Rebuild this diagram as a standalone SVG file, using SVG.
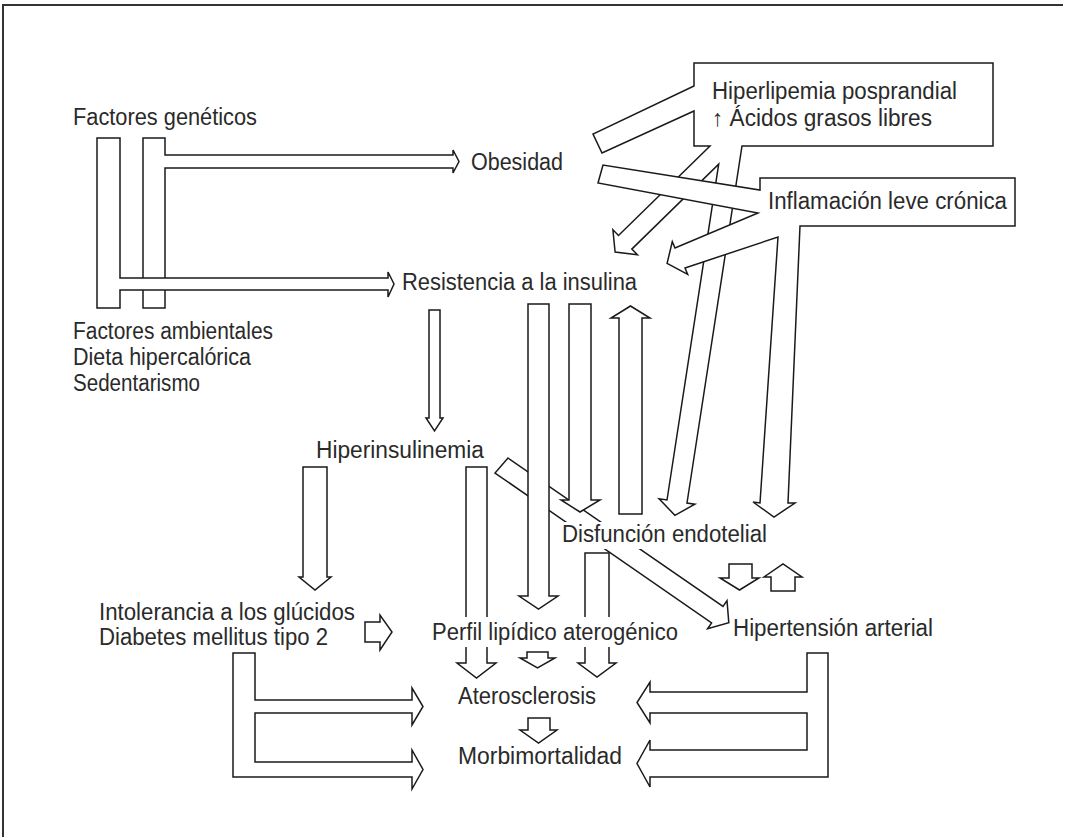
<svg xmlns="http://www.w3.org/2000/svg" width="1065" height="837" viewBox="0 0 1065 837">
<style>
.c{fill:#fff;stroke:#1a1a1a;stroke-width:1.5;stroke-linejoin:miter}
.t{font-family:"Liberation Sans",Arial,sans-serif;font-size:23px;fill:#2a2a2a}
.bg{fill:#fff}
.frame{fill:none;stroke:#333;stroke-width:2}
</style>
<rect width="1065" height="837" fill="#fff"/>
<path class="frame" d="M3,837 L3,5 L1063,5"/>
<g id="connectors">
  <path class="c" d="M508,458 L723,606.4 L727,600.6 L728.8,622.6 L707.6,628.7 L711.6,622.9 L495,473 Z"/>
  <path class="c" d="M429,310 L440,310 L440,418 L443,418 L434.5,431 L426,418 L429,418 Z"/>
  <path class="c" d="M528,304 L549,304 L549,596 L558,596 L538.5,609 L519,596 L528,596 Z"/>
  <path class="c" d="M569,304 L591,304 L591,500 L600,500 L580,512 L561,500 L569,500 Z"/>
  <path class="c" d="M619,514 L642,514 L642,318 L650,318 L630.5,306 L611,318 L619,318 Z"/>
  <path class="c" d="M303,467 L327,467 L327,577 L331,577 L315,590 L299,577 L303,577 Z"/>
  <path class="c" d="M466,467 L487,467 L487,663 L496,663 L476.5,678 L457,663 L466,663 Z"/>
  <path class="c" d="M527,652 L548,652 L548,658 L555,658 L537.5,668 L520,658 L527,658 Z"/>
  <path class="c" d="M585,553 L609,553 L609,663 L616,663 L597,677 L578,663 L585,663 Z"/>
  <path class="c" d="M365,622 L380,622 L380,615 L392,632 L380,650 L380,642 L365,642 Z"/>
  <path class="c" d="M729,564 L752,564 L752,578 L759,578 L739.5,590 L720,578 L729,578 Z"/>
  <path class="c" d="M771,591 L795,591 L795,577 L802,577 L783,564 L764,577 L771,577 Z"/>
  <path class="c" d="M528,718 L550,718 L550,730 L557,730 L538.5,743 L520,730 L528,730 Z"/>
  <path class="c" d="M233,653 L255,653 L255,700 L412,700 L412,688 L423,706.5 L412,725 L412,713 L255,713 L255,762 L412,762 L412,750 L423,769.5 L412,789 L412,777 L233,777 Z"/>
  <path class="c" d="M807,653 L828,653 L828,777 L650,777 L650,787 L637,763.5 L650,740 L650,750 L807,750 L807,713 L650,713 L650,723 L637,702.5 L650,682 L650,692 L807,692 Z"/>
  <path class="c" d="M143,138 L165,138 L165,155 L453,155 L453,150 L459,161.5 L453,173 L453,168 L165,168 L165,308 L143,308 Z"/>
  <path class="c" d="M97,138 L120,138 L120,278 L388,278 L388,272 L394,284 L388,297 L388,290 L120,290 L120,308 L97,308 Z"/>
  <path class="c" d="M694,63 L993,63 L993,146 L742,146 L687,503 L694.9,504.2 L674.9,515.3 L659.1,498.8 L667,500 L718.7,164.1 L631.8,249.1 L637.4,254.8 L615.1,252.1 L612.9,229.8 L618.5,235.5 L710,146 L694,146 L694,111 L602,153 L593,134 L694,86 Z"/>
  <path class="c" d="M760,178 L1015,178 L1015,226 L800,226 L788,503 L795,503 L774,517 L753,502 L760,503 L778,237 L685,268 L687.7,274.4 L667.1,263.4 L672.3,241.6 L675,248 L758,213 L598,183 L603,165 L760,190 Z"/>
</g>
<g id="n-geneticos"><text class="t" x="73" y="125" textLength="184" lengthAdjust="spacingAndGlyphs">Factores genéticos</text></g>
<g id="n-obesidad"><text class="t" x="471" y="170" textLength="92" lengthAdjust="spacingAndGlyphs">Obesidad</text></g>
<g id="n-resistencia"><text class="t" x="402" y="290" textLength="235" lengthAdjust="spacingAndGlyphs">Resistencia a la insulina</text></g>
<g id="n-ambientales">
  <text class="t" x="73" y="339" textLength="200" lengthAdjust="spacingAndGlyphs">Factores ambientales</text>
  <text class="t" x="73" y="365" textLength="178" lengthAdjust="spacingAndGlyphs">Dieta hipercalórica</text>
  <text class="t" x="73" y="391" textLength="127" lengthAdjust="spacingAndGlyphs">Sedentarismo</text>
</g>
<g id="n-hiperinsulinemia"><text class="t" x="316" y="458" textLength="168" lengthAdjust="spacingAndGlyphs">Hiperinsulinemia</text></g>
<g id="n-intolerancia">
  <text class="t" x="99" y="620" textLength="256" lengthAdjust="spacingAndGlyphs">Intolerancia a los glúcidos</text>
  <text class="t" x="99" y="645" textLength="229" lengthAdjust="spacingAndGlyphs">Diabetes mellitus tipo 2</text>
</g>
<g id="n-perfil">
  <rect class="bg" x="430" y="617" width="252" height="30"/>
  <text class="t" x="432" y="640" textLength="246" lengthAdjust="spacingAndGlyphs">Perfil lipídico aterogénico</text>
</g>
<g id="n-disfuncion">
  <rect class="bg" x="560" y="522" width="210" height="27"/>
  <text class="t" x="562" y="542" textLength="205" lengthAdjust="spacingAndGlyphs">Disfunción endotelial</text>
</g>
<g id="n-hipertension"><text class="t" x="733" y="636" textLength="200" lengthAdjust="spacingAndGlyphs">Hipertensión arterial</text></g>
<g id="n-aterosclerosis"><text class="t" x="458" y="704" textLength="138" lengthAdjust="spacingAndGlyphs">Aterosclerosis</text></g>
<g id="n-morbimortalidad"><text class="t" x="458" y="764" textLength="164" lengthAdjust="spacingAndGlyphs">Morbimortalidad</text></g>
<g id="n-hiperlipemia">
  <text class="t" x="712" y="99" textLength="245" lengthAdjust="spacingAndGlyphs">Hiperlipemia posprandial</text>
  <text class="t" x="712" y="126" textLength="220" lengthAdjust="spacingAndGlyphs">↑ Ácidos grasos libres</text>
</g>
<g id="n-inflamacion"><text class="t" x="768" y="209" textLength="239" lengthAdjust="spacingAndGlyphs">Inflamación leve crónica</text></g>
</svg>
